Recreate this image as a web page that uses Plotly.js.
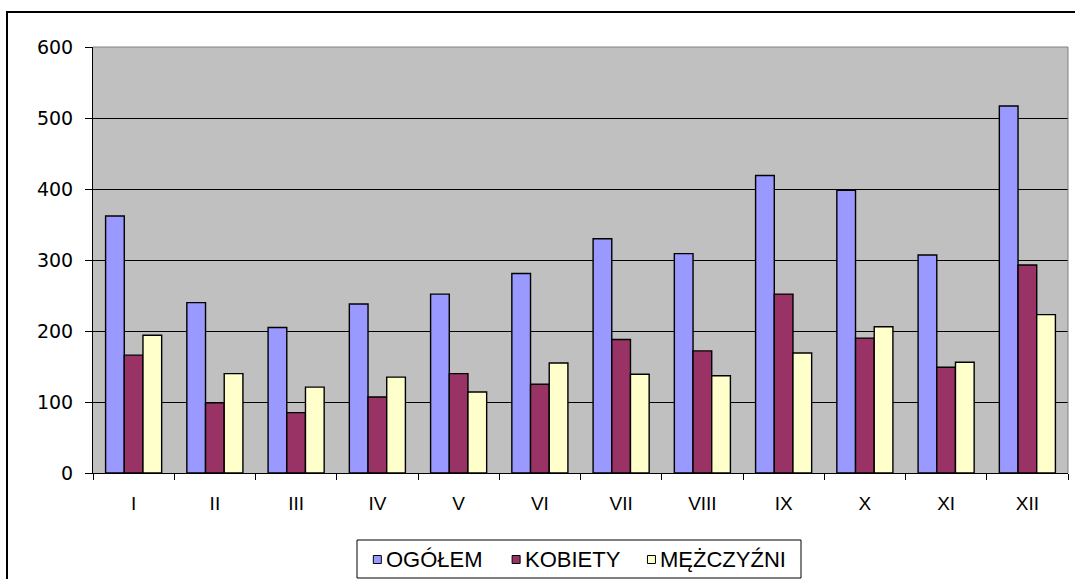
<!DOCTYPE html>
<html>
<head>
<meta charset="utf-8">
<script src="https://cdn.plot.ly/plotly-3.0.1.min.js"></script>
<style>
html,body{margin:0;padding:0;background:#fff;}
#wrap{position:relative;width:1075px;height:579px;overflow:hidden;}
#chart{position:absolute;left:0;top:0;width:1075px;height:579px;}
#frame{position:absolute;left:6px;top:11px;width:1080px;height:600px;border:2px solid #000;pointer-events:none;}
</style>
</head>
<body>
<div id="wrap">
<div id="chart"></div>
<div id="frame"></div>
</div>
<script>
const months = ["I","II","III","IV","V","VI","VII","VIII","IX","X","XI","XII"];
const seriesNames = ["OGÓŁEM","KOBIETY","MĘŻCZYŹNI"];
const ogolem     = [362, 240, 205, 238, 252, 281, 330, 309, 419, 398, 307, 517];
const kobiety    = [166,  99,  85, 107, 140, 125, 188, 172, 252, 190, 149, 293];
const mezczyzni  = [194, 140, 121, 135, 114, 155, 139, 137, 169, 206, 156, 223];
const colors = ["#9999FF", "#993366", "#FFFFCC"];

const fam = "Liberation Sans, Arial, sans-serif";
const W = 1075, H = 579;
const M = {l: 93, r: 7, t: 47, b: 106};
const PW = W - M.l - M.r, PH = H - M.t - M.b;
const px = x => (x - M.l) / PW;          // pixel x -> paper x
const py = y => (H - M.b - y) / PH;      // pixel y -> paper y

const traces = [ogolem, kobiety, mezczyzni].map((vals, i) => ({
  type: "bar",
  name: seriesNames[i],
  x: months,
  y: vals,
  marker: {color: colors[i], line: {color: "#000", width: 1.4}},
  hoverinfo: "x+y+name",
  showlegend: false
}));

// manual legend (box, swatches, labels)
const legendBox = {x0: 357, x1: 801, y0: 540, y1: 578};
const legendTextCenters = [434.6, 572.8, 723.4];
const legendFontSize = 22;
const shapes = [
  {type: "line", xref: "paper", yref: "paper", x0: 0, x1: 1, y0: 1, y1: 1, line: {color: "#808080", width: 1}, layer: "above"},
  {type: "line", xref: "paper", yref: "paper", x0: 1, x1: 1, y0: 0, y1: 1, line: {color: "#808080", width: 1}, layer: "above"},
  {type: "rect", xref: "paper", yref: "paper",
   x0: px(legendBox.x0), x1: px(legendBox.x1), y0: py(legendBox.y0), y1: py(legendBox.y1),
   line: {color: "#000", width: 1}, fillcolor: "#fff", layer: "above"}
];
const annotations = [];
const cy = (legendBox.y0 + legendBox.y1) / 2 + 0.5;

// measure text widths to place swatches next to labels
const cvs = document.createElement("canvas").getContext("2d");
cvs.font = legendFontSize + "px 'Liberation Sans'";
seriesNames.forEach((name, i) => {
  const w = cvs.measureText(name).width;
  const tx = legendTextCenters[i] - w / 2;
  const sx1 = tx - 5, sx0 = sx1 - 8;
  shapes.push({type: "rect", xref: "paper", yref: "paper",
    x0: px(sx0), x1: px(sx1), y0: py(cy - 4), y1: py(cy + 4),
    line: {color: "#000", width: 1}, fillcolor: colors[i], layer: "above"});
  annotations.push({xref: "paper", yref: "paper", x: px(legendTextCenters[i]), y: py(cy),
    xanchor: "center", yanchor: "middle", showarrow: false, text: name,
    font: {family: fam, size: legendFontSize, color: "#000"}});
});

const layout = {
  width: W, height: H,
  margin: {l: M.l, r: M.r, t: M.t, b: M.b, pad: 0},
  paper_bgcolor: "rgba(0,0,0,0)",
  plot_bgcolor: "#C0C0C0",
  font: {family: fam, size: 19, color: "#000"},
  barmode: "group",
  bargap: 0.31,
  bargroupgap: 0,
  showlegend: false,
  xaxis: {
    type: "category",
    showline: true, linecolor: "#000", linewidth: 1,
    ticks: "outside", ticklen: 6, tickcolor: "#000", tickwidth: 1,
    tickson: "boundaries",
    showgrid: false, zeroline: false,
    tickfont: {family: fam, size: 19, color: "#000"},
    ticklabelstandoff: 13,
    fixedrange: true
  },
  yaxis: {
    range: [0, 600],
    dtick: 100, tick0: 0,
    showline: true, linecolor: "#000", linewidth: 1,
    ticks: "outside", ticklen: 7, tickcolor: "#000", tickwidth: 1,
    showgrid: true, gridcolor: "#000", gridwidth: 1,
    zeroline: false,
    tickfont: {family: "DejaVu Sans, sans-serif", size: 19, color: "#000"},
    ticklabelstandoff: 8,
    fixedrange: true
  },
  shapes: shapes,
  annotations: annotations
};

Plotly.newPlot("chart", traces, layout, {displayModeBar: false, staticPlot: true});
</script>
</body>
</html>
